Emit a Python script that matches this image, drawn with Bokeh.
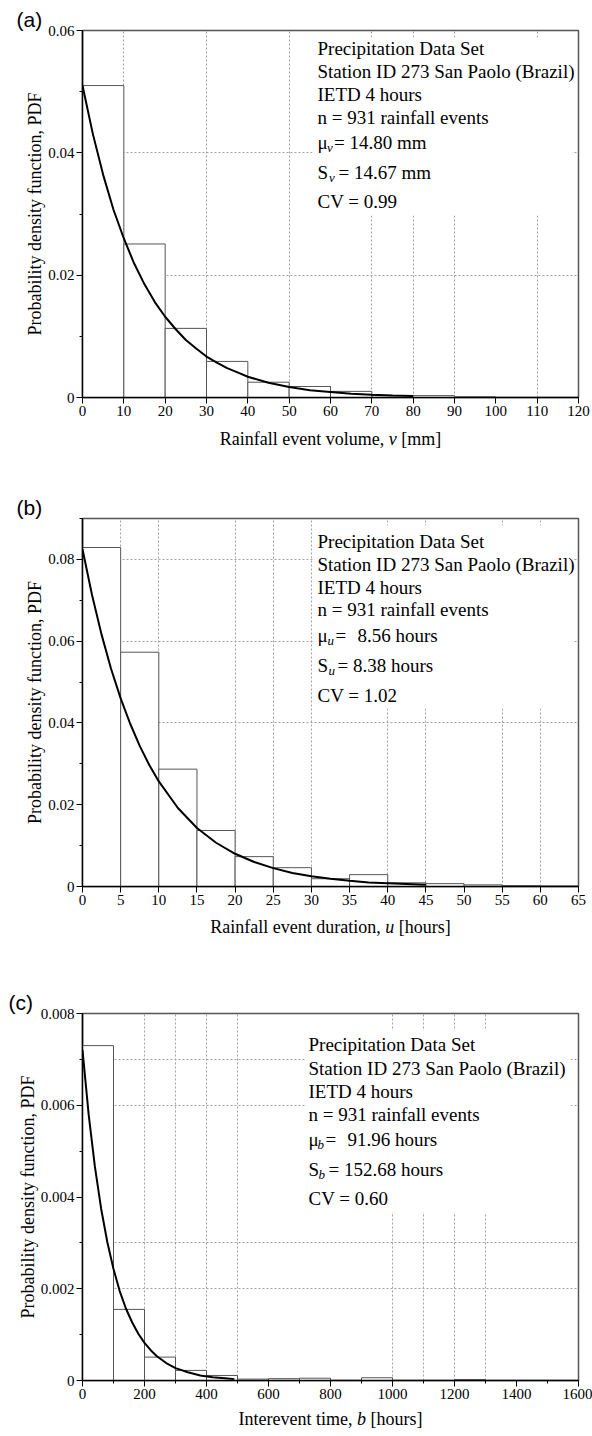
from bokeh.plotting import figure
from bokeh.layouts import column
from bokeh.models import FixedTicker, Label, Range1d
from bokeh.core.properties import value
from bokeh.embed import file_html
from bokeh.resources import INLINE

SERIF = "Liberation Serif"
SANS = "Liberation Sans"

# ---------------- Panel (a): rainfall event volume ----------------
vol_edges = [0, 10, 20, 30, 40, 50, 60, 70, 80, 90, 100, 110, 120]
vol_density = [0.0510, 0.0251, 0.0113, 0.0059, 0.0025, 0.0018, 0.0010,
               0.0003, 0.0003, 0.0001, 0.0, 0.0]
vol_fit_x = [0, 2.5, 5, 7.5, 10, 12.5, 15, 17.5, 20, 22.5, 25, 27.5, 30,
             32.5, 35, 37.5, 40, 45, 50, 55, 60, 65, 70, 75, 80]
vol_fit_y = [0.0510, 0.0431, 0.0364, 0.0307, 0.0260, 0.0219, 0.0185, 0.0156,
             0.0132, 0.0112, 0.0094, 0.0080, 0.0067, 0.0057, 0.0048, 0.0041,
             0.0034, 0.0024, 0.0017, 0.0012, 0.0009, 0.0006, 0.00045,
             0.00032, 0.00023]
vol_xticks = [0, 10, 20, 30, 40, 50, 60, 70, 80, 90, 100, 110, 120]
vol_yticks = [0, 0.02, 0.04, 0.06]
vol_yminor = [0.01, 0.03, 0.05]
vol_xgrid = [10, 30, 50, 70, 80, 90, 110]
vol_ygrid = [0.02, 0.04]
vol_info = ["Precipitation Data Set", "Station ID 273 San Paolo (Brazil)",
            "IETD 4 hours", "n = 931 rainfall events"]
vol_mean = ["\u03bc", "v", "= 14.80 mm"]
vol_std = ["S", "v", "= 14.67 mm"]
vol_cv = "CV = 0.99"
vol_title = ["Rainfall event volume,", "v", "[mm]"]

# ---------------- Panel (b): rainfall event duration ----------------
dur_edges = [0, 5, 10, 15, 20, 25, 30, 35, 40, 45, 50, 55, 60, 65]
dur_density = [0.0829, 0.0573, 0.0287, 0.0137, 0.0073, 0.0046, 0.0019,
               0.0029, 0.0009, 0.0007, 0.0004, 0.0002, 0.0001]
dur_fit_x = [0, 1.25, 2.5, 3.75, 5, 6.25, 7.5, 8.75, 10, 12.5, 15, 17.5, 20,
             22.5, 25, 27.5, 30, 32.5, 35, 37.5, 40, 42.5, 45]
dur_fit_y = [0.0825, 0.0713, 0.0616, 0.0532, 0.0460, 0.0398, 0.0344, 0.0297,
             0.0257, 0.0192, 0.0143, 0.0107, 0.0080, 0.0060, 0.0045, 0.0033,
             0.0025, 0.0019, 0.0014, 0.0010, 0.0008, 0.0006, 0.0004]
dur_xticks = [0, 5, 10, 15, 20, 25, 30, 35, 40, 45, 50, 55, 60, 65]
dur_yticks = [0, 0.02, 0.04, 0.06, 0.08]
dur_yminor = [0.01, 0.03, 0.05, 0.07, 0.09]
dur_xgrid = [5, 10, 20, 25, 30, 40, 45, 55, 60]
dur_ygrid = [0.04, 0.06, 0.08]
dur_info = ["Precipitation Data Set", "Station ID 273 San Paolo (Brazil)",
            "IETD 4 hours", "n = 931 rainfall events"]
dur_mean = ["\u03bc", "u", "=", "8.56 hours"]
dur_std = ["S", "u", "= 8.38 hours"]
dur_cv = "CV = 1.02"
dur_title = ["Rainfall event duration,", "u", "[hours]"]

# ---------------- Panel (c): interevent time ----------------
iet_edges = [0, 100, 200, 300, 400, 500, 600, 700, 800, 900, 1000, 1100,
             1200, 1300, 1400, 1500, 1600]
iet_density = [0.00730, 0.00155, 0.00051, 0.00022, 0.00011, 0.00003,
               0.00004, 0.00005, 0.0, 0.00006, 0.0, 0.0, 0.00002, 0.0, 0.0, 0.0]
iet_fit_x = [0, 20, 40, 60, 80, 100, 120, 140, 160, 180, 200, 220, 240, 270,
             300, 340, 380, 420, 460, 490]
iet_fit_y = [0.00720, 0.00579, 0.00466, 0.00375, 0.00302, 0.00243, 0.00195,
             0.00157, 0.00127, 0.00102, 0.00082, 0.00066, 0.00053, 0.00038,
             0.00027, 0.00018, 0.00011, 0.00007, 0.00005, 0.00003]
iet_xticks = [0, 200, 400, 600, 800, 1000, 1200, 1400, 1600]
iet_xminor = [100, 300, 500, 700, 900, 1100, 1300, 1500]
iet_yticks = [0, 0.002, 0.004, 0.006, 0.008]
iet_yminor = [0.001, 0.003, 0.005, 0.007]
iet_xgrid = [200, 300, 400, 500, 1000, 1100, 1200, 1300]
iet_ygrid = [0.002, 0.003, 0.006, 0.007]
iet_info = ["Precipitation Data Set", "Station ID 273 San Paolo (Brazil)",
            "IETD 4 hours", "n = 931 rainfall events"]
iet_mean = ["\u03bc", "b", "=", "91.96 hours"]
iet_std = ["S", "b", "= 152.68 hours"]
iet_cv = "CV = 0.60"
iet_title = ["Interevent time,", "b", "[hours]"]

Y_TITLE = "Probability density function, PDF"
CANVAS_W = 592
LEFT = 82
FRAME_W = 496


def to_data(g, px, py):
    x = g["x0"] + (px - g["L"]) / g["W"] * (g["x1"] - g["x0"])
    y = g["y1"] - (py - g["T"]) / g["H"] * (g["y1"] - g["y0"])
    return x, y


def add_text(p, g, px, py, text, size, font=SERIF, style="normal", align="left"):
    x, y = to_data(g, px, py)
    p.add_layout(Label(x=x, y=y, text=text, text_font=font,
                       text_font_size=f"{size}px", text_font_style=style,
                       text_align=align, text_baseline="middle",
                       text_color="black"))


def build(g, btop, bbot, edges, dens, fx, fy, xticks, xminor, yticks, yminor,
          xgrid, ygrid, box, tag, tag_left):
    p = figure(frame_width=g["W"], frame_height=g["H"],
               min_border_left=LEFT, min_border_right=CANVAS_W - LEFT - FRAME_W,
               min_border_top=btop, min_border_bottom=bbot,
               x_range=Range1d(g["x0"], g["x1"]),
               y_range=Range1d(g["y0"], g["y1"]),
               output_backend="svg", toolbar_location=None)
    p.background_fill_color = "white"
    p.border_fill_color = "white"
    p.outline_line_color = "#555555"
    p.outline_line_width = 1.5

    # panel tag "(a)" etc. as the plot title, shifted left of the frame
    p.title.text = tag
    p.title.align = "left"
    p.title.offset = tag_left - LEFT
    p.title.standoff = 0
    p.title.text_font = SANS
    p.title.text_font_size = "21px"
    p.title.text_font_style = "normal"
    p.title.text_color = "black"

    # grids
    p.xgrid.ticker = FixedTicker(ticks=xgrid)
    p.ygrid.ticker = FixedTicker(ticks=ygrid)
    for gr in (p.xgrid[0], p.ygrid[0]):
        gr.grid_line_color = "#a0a0a0"
        gr.grid_line_dash = "2 2"
        gr.grid_line_width = 1

    # white text box covering grid
    bl, bt = to_data(g, box[0], box[1])
    br, bb = to_data(g, box[2], box[3])
    p.quad(left=[bl], right=[br], top=[bt], bottom=[bb],
           fill_color="white", line_color=None)

    # histogram
    p.quad(left=edges[:-1], right=edges[1:], top=dens,
           bottom=[0] * len(dens), fill_color="white",
           line_color="#555555", line_width=1)
    # fitted curve
    p.line(fx, fy, line_color="black", line_width=2)

    # axes
    p.xaxis.ticker = FixedTicker(ticks=xticks, minor_ticks=xminor)
    p.yaxis.ticker = FixedTicker(ticks=yticks, minor_ticks=yminor)
    p.yaxis.major_label_overrides = {float(v): ("%g" % v) for v in yticks}
    for ax in (p.xaxis[0], p.yaxis[0]):
        ax.axis_line_color = "black"
        ax.axis_line_width = 1.5
        ax.major_tick_out = 6
        ax.major_tick_in = 0
        ax.minor_tick_out = 3
        ax.minor_tick_in = 0
        ax.major_tick_line_color = "black"
        ax.minor_tick_line_color = "black"
        ax.major_label_text_font = SERIF
        ax.major_label_text_font_size = "15px"
        ax.major_label_text_color = "black"
        ax.major_label_standoff = 2
    p.yaxis.axis_label = Y_TITLE
    p.yaxis.axis_label_text_font = SERIF
    p.yaxis.axis_label_text_font_size = "18px"
    p.yaxis.axis_label_text_font_style = "normal"
    p.yaxis.axis_label_text_color = "black"
    p.yaxis.axis_label_standoff = 0
    return p


def stats_text(p, g, x0, ys, info, mean, std, cv, mean_off, std_off):
    for t, y in zip(info, ys[:4]):
        add_text(p, g, x0, y, t, 19)
    add_text(p, g, x0, ys[4], mean[0], 19)
    add_text(p, g, x0 + mean_off[0], ys[4] + 5, mean[1], 13, style="italic")
    for t, off in zip(mean[2:], mean_off[1:]):
        add_text(p, g, x0 + off, ys[4], t, 19)
    add_text(p, g, x0, ys[5], std[0], 19)
    add_text(p, g, x0 + std_off[0], ys[5] + 5, std[1], 13, style="italic")
    add_text(p, g, x0 + std_off[1], ys[5], std[2], 19)
    add_text(p, g, x0, ys[6], cv, 19)


def title_strip(height, ty, parts, xs):
    """Small axis-less figure holding the x-axis title (with italic variable).
    The column layout aligns its frame with the panels' frames, so the x range
    is expressed in page pixels over that frame."""
    s = figure(width=CANVAS_W, height=height,
               x_range=Range1d(LEFT, LEFT + FRAME_W),
               y_range=Range1d(height, 0),
               min_border_left=LEFT, min_border_right=CANVAS_W - LEFT - FRAME_W,
               min_border_top=0, min_border_bottom=0,
               x_axis_type=None, y_axis_type=None,
               output_backend="svg", toolbar_location=None)
    s.outline_line_color = None
    s.background_fill_color = "white"
    s.border_fill_color = "white"
    styles = ["normal", "italic", "normal"]
    for t, x, st in zip(parts, xs, styles):
        s.text(x=[x], y=[ty], text=[t], text_font=value(SERIF),
               text_font_size=value("18px"), text_font_style=value(st),
               text_baseline="middle", text_align="left", text_color="black")
    return s


# ---- panel (a)
ga = dict(L=LEFT, T=30, W=FRAME_W, H=367, x0=0, x1=120, y0=0, y1=0.06)
pa = build(ga, 30, 30, vol_edges, vol_density, vol_fit_x, vol_fit_y,
           vol_xticks, [], vol_yticks, vol_yminor, vol_xgrid, vol_ygrid,
           (312, 37, 572, 215), "(a)", 16)
stats_text(pa, ga, 317, [48, 71, 94, 117, 142, 172, 201], vol_info,
           vol_mean, vol_std, vol_cv, [9.5, 16.5], [11.5, 21])
ta = title_strip(43, 11, vol_title, [219.3, 388.3, 400.8])

# ---- panel (b)
gb = dict(L=LEFT, T=48, W=FRAME_W, H=368, x0=0, x1=65, y0=0, y1=0.09)
pb = build(gb, 48, 30, dur_edges, dur_density, dur_fit_x, dur_fit_y,
           dur_xticks, [], dur_yticks, dur_yminor, dur_xgrid, dur_ygrid,
           (314, 55, 572, 238), "(b)", 16)
stats_text(pb, gb, 317, [71, 94, 117, 139, 165, 195, 225], dur_info,
           dur_mean, dur_std, dur_cv, [10, 18, 40], [11, 20])
tb = title_strip(24, 10, dur_title, [209.8, 384.8, 398.3])

# ---- panel (c)
gc = dict(L=LEFT, T=73, W=FRAME_W, H=367, x0=0, x1=1600, y0=0, y1=0.008)
pc = build(gc, 73, 26, iet_edges, iet_density, iet_fit_x, iet_fit_y,
           iet_xticks, iet_xminor, iet_yticks, iet_yminor, iet_xgrid,
           iet_ygrid, (305, 90, 570, 272), "(c)", 8)
stats_text(pc, gc, 308, [104, 128, 151, 174, 199, 229, 258], iet_info,
           iet_mean, iet_std, iet_cv, [9, 17, 39], [10, 20])
tc = title_strip(30, 12, iet_title, [238, 356.5, 370])

layout = column(pa, ta, pb, tb, pc, tc)
open("out.html", "w").write(file_html(layout, INLINE))
